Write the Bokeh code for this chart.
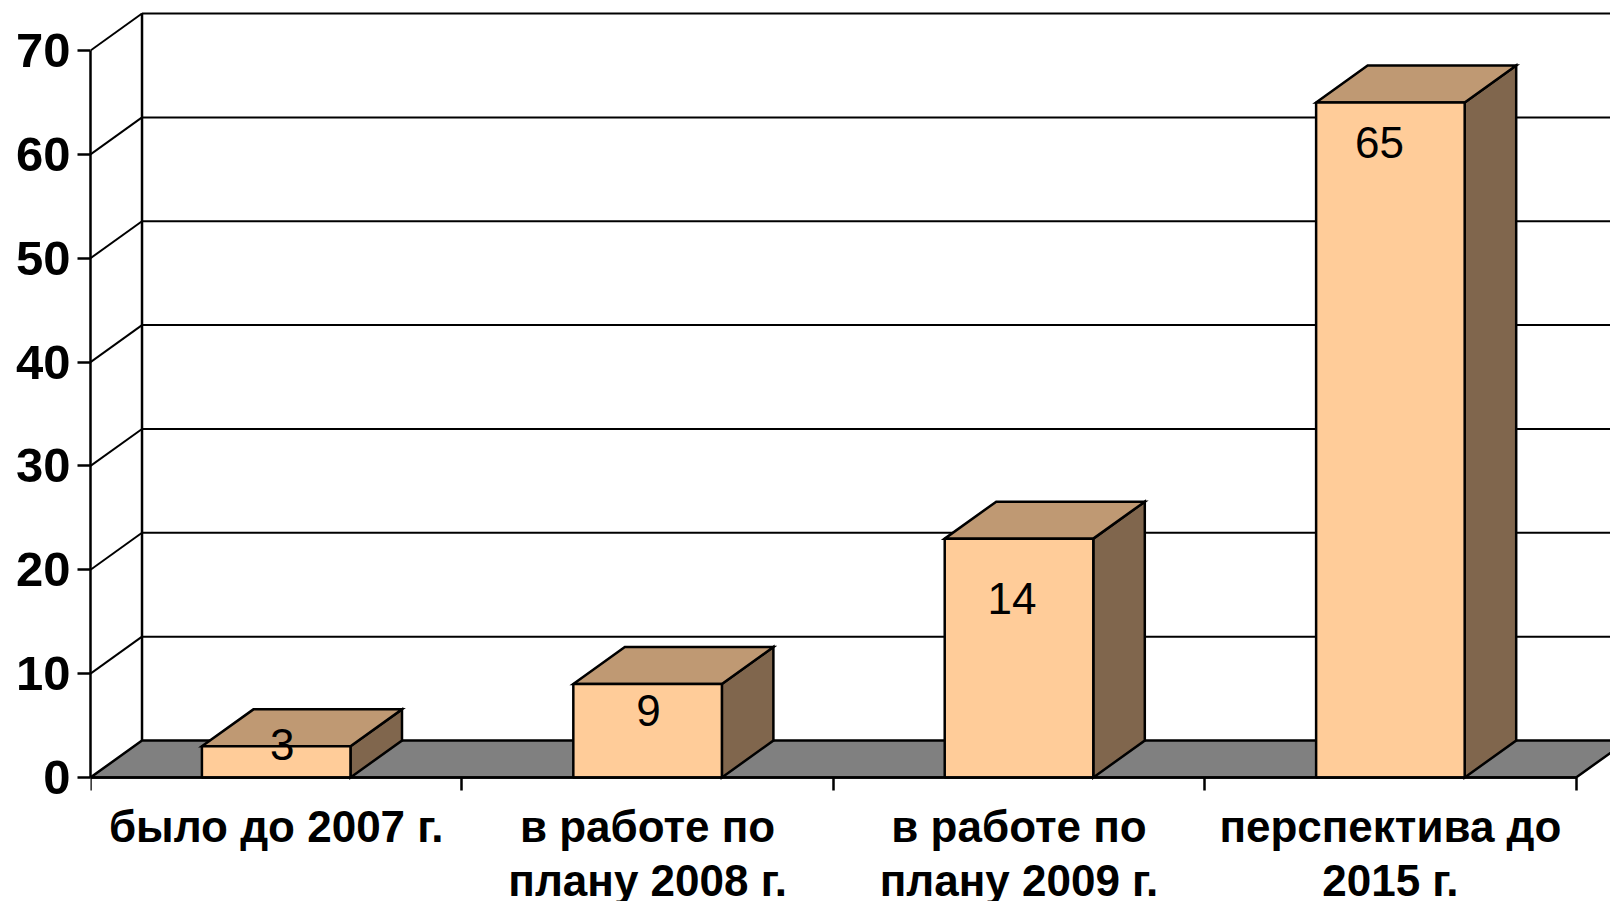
from bokeh.plotting import figure
from bokeh.models import ColumnDataSource, FixedTicker, Range1d
from bokeh.core.properties import value
from bokeh.embed import file_html
from bokeh.resources import INLINE

categories = ["было до 2007 г.", "в работе по\nплану 2008 г.", "в работе по\nплану 2009 г.", "перспектива до\n2015 г."]
bar_heights = [3, 9, 23, 65]
bar_labels = ["3", "9", "14", "65"]
y_ticks = [0, 10, 20, 30, 40, 50, 60, 70]

# 3D layout (in data units of the two scales)
DEPTH_X = 0.1387
DEPTH_Y = 3.56
BAR_W = 0.4
label_dx = [6, 1, -7, -11]
label_dy = [-2, 26, 60, 40]

FRONT = "#FFCC99"
TOP = "#BF9973"
SIDE = "#80664D"
FLOOR = "#808080"
FONT = "Liberation Sans"

W, H = 1610, 901
L, B = 90, 124
PX_PER_CAT = 371.4
PX_PER_VAL = 727 / 70
n = len(categories)

p = figure(width=W, height=H, output_backend="svg", toolbar_location=None,
           x_range=Range1d(0, (W - L) / PX_PER_CAT),
           y_range=Range1d(-B / PX_PER_VAL, (H - B) / PX_PER_VAL),
           min_border_left=L, min_border_bottom=0, min_border_top=0, min_border_right=0,
           outline_line_color=None, background_fill_color="white", border_fill_color="white")
p.grid.visible = False

# floor
xr = n
p.patch([0, DEPTH_X, xr + DEPTH_X, xr], [0, DEPTH_Y, DEPTH_Y, 0],
        fill_color=FLOOR, line_color="black", line_width=2.5)

# back wall and side wall lines
far = xr + DEPTH_X
p.multi_line([[DEPTH_X, far] for v in y_ticks[1:]],
             [[v + DEPTH_Y, v + DEPTH_Y] for v in y_ticks[1:]],
             line_color="black", line_width=2)
p.multi_line([[0, DEPTH_X] for v in y_ticks[1:]],
             [[v, v + DEPTH_Y] for v in y_ticks[1:]],
             line_color="black", line_width=2)
p.line([DEPTH_X, DEPTH_X], [DEPTH_Y, y_ticks[-1] + DEPTH_Y], line_color="black", line_width=2.5)

# bars
centers = [i + 0.5 for i in range(n)]
lefts = [c - BAR_W / 2 for c in centers]
rights = [c + BAR_W / 2 for c in centers]
p.patches([[r, r + DEPTH_X, r + DEPTH_X, r] for r in rights],
          [[0, DEPTH_Y, h + DEPTH_Y, h] for h in bar_heights],
          fill_color=SIDE, line_color="black", line_width=2.5, line_join="miter")
p.patches([[l, l + DEPTH_X, r + DEPTH_X, r] for l, r in zip(lefts, rights)],
          [[h, h + DEPTH_Y, h + DEPTH_Y, h] for h in bar_heights],
          fill_color=TOP, line_color="black", line_width=2.5, line_join="miter")
p.vbar(x=centers, top=bar_heights, bottom=0, width=BAR_W,
       fill_color=FRONT, line_color="black", line_width=2.5)

src = ColumnDataSource(dict(x=centers, y=bar_heights, t=bar_labels,
                            dx=label_dx, dy=label_dy))
p.text(x="x", y="y", text="t", x_offset="dx", y_offset="dy", source=src,
       text_font=value(FONT), text_font_size="44px", text_color="black",
       text_align="center", text_baseline="middle")

# category labels, under the axis inside the frame
cat_src = ColumnDataSource(dict(x=centers, y=[0] * n, t=categories))
p.text(x="x", y="y", text="t", y_offset=24, source=cat_src,
       text_font=value(FONT), text_font_style="bold", text_font_size="44px",
       text_color="black", text_align="center", text_baseline="top",
       text_line_height=1.115)

# axes
ya = p.yaxis[0]
ya.ticker = FixedTicker(ticks=y_ticks)
ya.bounds = (0, y_ticks[-1])
ya.axis_line_color = "black"
ya.axis_line_width = 2.5
ya.major_tick_in = 0
ya.major_tick_out = 13
ya.major_tick_line_color = "black"
ya.major_tick_line_width = 2.5
ya.minor_tick_line_color = None
ya.major_label_standoff = 7
ya.major_label_text_font = FONT
ya.major_label_text_font_style = "bold"
ya.major_label_text_font_size = "49px"
ya.major_label_text_color = "black"

xa = p.xaxis[0]
xa.ticker = FixedTicker(ticks=[], minor_ticks=list(range(n + 1)))
xa.fixed_location = 0
xa.bounds = (0, n)
xa.axis_line_color = "black"
xa.axis_line_width = 2.5
xa.major_tick_in = 0
xa.major_tick_out = 0
xa.major_tick_line_color = None
xa.major_label_standoff = 0
xa.minor_tick_in = 0
xa.minor_tick_out = 13
xa.minor_tick_line_color = "black"
xa.minor_tick_line_width = 2.5

open("out.html", "w").write(file_html(p, INLINE))
